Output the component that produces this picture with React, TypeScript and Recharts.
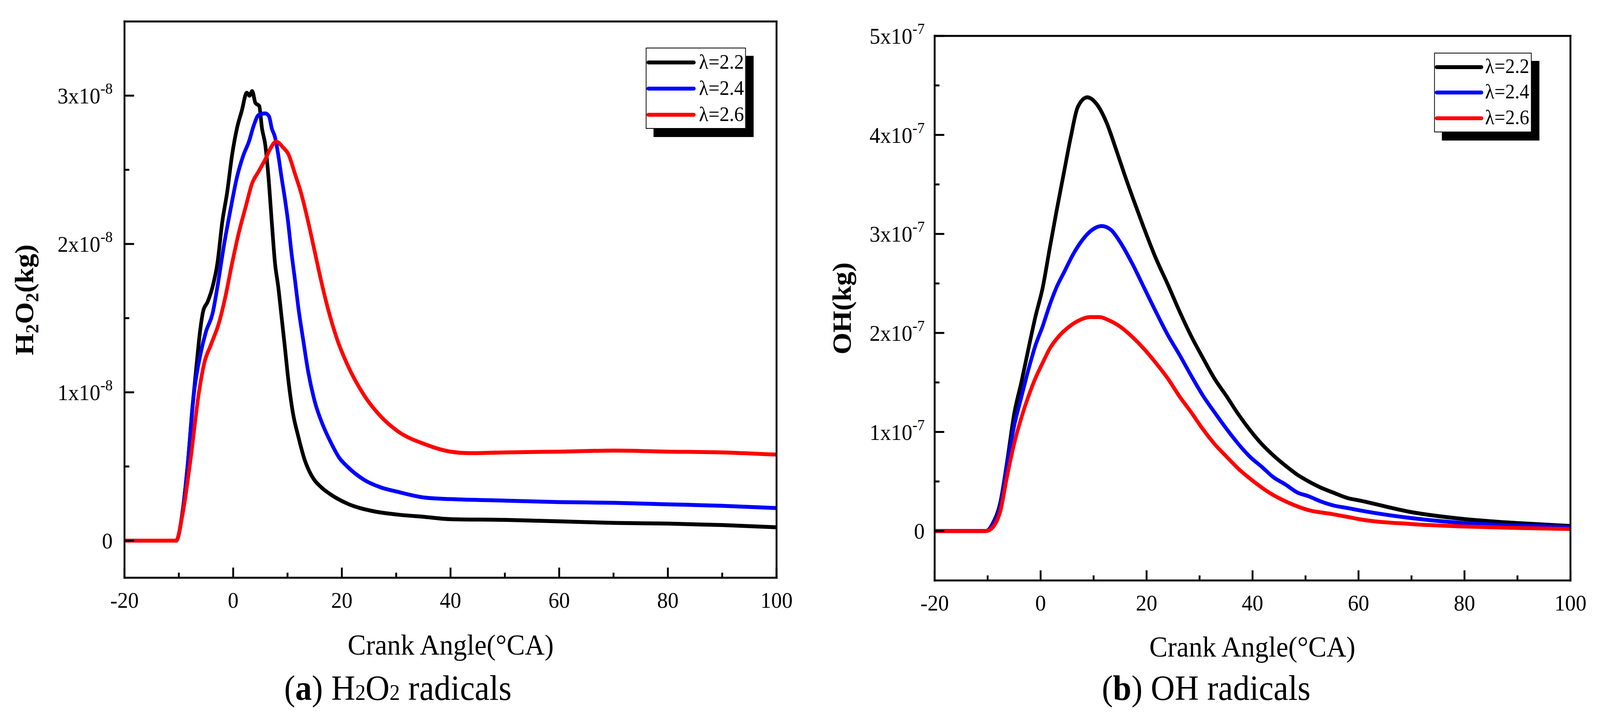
import React from "react";
import { LineChart, Line, XAxis, YAxis, Legend } from "recharts";

const FONT = '"Liberation Serif", "Times New Roman", serif';

// the browser viewport is capped at 4096px wide, so the 4331px-wide layout is squeezed horizontally to fit
const DESIGN_W = 4331;
const VIEW_W = 4096;

// crank angle ticks (°CA)
const xTicks = [-20, -10, 0, 10, 20, 30, 40, 50, 60, 70, 80, 90, 100];
const h2o2Ticks = [0, 0.5, 1, 1.5, 2, 2.5, 3];
const ohTicks = [0, 0.5, 1, 1.5, 2, 2.5, 3, 3.5, 4, 4.5, 5];

const seriesNames = ["λ=2.2", "λ=2.4", "λ=2.6"];
const seriesColors = ["#000000", "#0000ff", "#ff0000"];

// H2O2 mass, units of 1e-8 kg  [crank angle, value]
const h2o2Lambda22 = [
  [-20, 0], [-10.5, 0], [-9.3, 0.2], [-8.4, 0.5], [-7.5, 0.9], [-6.7, 1.2], [-6.1, 1.41], [-5.5, 1.55],
  [-4.7, 1.61], [-3.8, 1.71], [-2.9, 1.87], [-2.0, 2.15], [-1.1, 2.35], [-0.2, 2.6], [0.7, 2.78], [1.6, 2.9],
  [2.5, 3.02], [3.0, 3.0], [3.5, 3.03], [4.1, 2.95], [4.8, 2.93], [5.3, 2.78], [5.9, 2.67], [6.5, 2.45],
  [7.1, 2.15], [7.7, 1.87], [8.3, 1.71], [8.9, 1.51], [9.5, 1.31], [10.1, 1.1], [11.0, 0.86], [12.0, 0.7],
  [13.2, 0.54], [14.4, 0.44], [16.2, 0.36], [18.0, 0.31], [21.0, 0.25], [25.6, 0.2], [30.2, 0.176],
  [35.3, 0.16], [40, 0.145], [50, 0.14], [60, 0.13], [70, 0.12], [80, 0.115], [90, 0.105], [100, 0.09],
];
const h2o2Lambda24 = [
  [-20, 0], [-10.5, 0], [-9.3, 0.2], [-8.4, 0.5], [-7.2, 1.0], [-6.0, 1.26], [-5.0, 1.41], [-3.8, 1.53],
  [-2.9, 1.71], [-1.7, 1.99], [-0.5, 2.23], [0.7, 2.45], [1.9, 2.6], [2.9, 2.69], [3.8, 2.8], [4.7, 2.87],
  [5.9, 2.88], [6.6, 2.86], [7.1, 2.78], [7.7, 2.72], [8.3, 2.6], [8.9, 2.45], [9.5, 2.31], [10.1, 2.15],
  [10.7, 1.95], [11.4, 1.75], [12.0, 1.57], [12.9, 1.35], [13.8, 1.14], [15.0, 0.94], [16.5, 0.78],
  [18.0, 0.66], [19.5, 0.56], [21.0, 0.5], [24.1, 0.41], [27.1, 0.36], [30.2, 0.33], [35.3, 0.29],
  [40, 0.28], [50, 0.27], [60, 0.26], [70, 0.255], [80, 0.245], [90, 0.235], [100, 0.22],
];
const h2o2Lambda26 = [
  [-20, 0], [-10.5, 0], [-9.3, 0.18], [-7.8, 0.56], [-6.3, 1.0], [-5.3, 1.2], [-4.1, 1.32], [-2.6, 1.47],
  [-1.4, 1.65], [-0.2, 1.87], [1.0, 2.07], [2.3, 2.25], [3.5, 2.41], [4.7, 2.49], [5.9, 2.57], [6.8, 2.64],
  [7.9, 2.69], [9.2, 2.65], [10.1, 2.61], [11.4, 2.47], [12.6, 2.33], [13.8, 2.15], [15.0, 1.95],
  [16.2, 1.75], [17.4, 1.57], [19.2, 1.35], [21.1, 1.18], [24.1, 0.98], [27.1, 0.84], [30.2, 0.74],
  [35.3, 0.65], [40, 0.6], [43.5, 0.59], [50, 0.595], [60, 0.6], [70, 0.607], [80, 0.6], [90, 0.595], [100, 0.58],
];

// OH mass, units of 1e-7 kg
const ohLambda22 = [
  [-20, 0], [-10.3, 0], [-9.0, 0.08], [-7.6, 0.29], [-6.3, 0.71], [-5.0, 1.18], [-3.6, 1.51], [-2.3, 1.84],
  [-1.0, 2.16], [0.4, 2.46], [1.7, 2.85], [3.0, 3.23], [4.4, 3.62], [5.7, 3.98], [7.0, 4.28], [8.8, 4.38],
  [10.6, 4.31], [12.4, 4.13], [14.2, 3.86], [15.9, 3.59], [17.7, 3.32], [19.5, 3.06], [21.7, 2.76],
  [24.0, 2.49], [26.2, 2.22], [28.4, 1.97], [30.6, 1.75], [32.8, 1.54], [35.1, 1.36], [37.3, 1.18],
  [39.5, 1.02], [41.7, 0.88], [44.0, 0.76], [46.2, 0.66], [48.4, 0.57], [50.6, 0.5], [52.8, 0.44],
  [55.1, 0.39], [58.1, 0.33], [60, 0.31], [70, 0.19], [80, 0.12], [90, 0.08], [100, 0.05],
];
const ohLambda24 = [
  [-20, 0], [-10.3, 0], [-9.0, 0.07], [-7.6, 0.26], [-6.3, 0.68], [-5.0, 1.06], [-3.6, 1.36], [-2.3, 1.63],
  [-1.0, 1.87], [0.4, 2.07], [1.7, 2.28], [3.0, 2.46], [4.4, 2.61], [6.2, 2.8], [7.9, 2.94], [9.7, 3.04],
  [11.5, 3.08], [13.3, 3.04], [15.1, 2.91], [17.3, 2.7], [19.5, 2.46], [21.7, 2.22], [24.0, 1.98],
  [26.2, 1.78], [28.4, 1.57], [30.6, 1.37], [32.8, 1.2], [35.1, 1.03], [37.3, 0.88], [39.5, 0.75],
  [41.7, 0.65], [44.0, 0.54], [46.2, 0.47], [48.4, 0.39], [50.6, 0.35], [52.8, 0.3], [55.1, 0.26],
  [58.1, 0.23], [60, 0.21], [70, 0.13], [80, 0.08], [90, 0.055], [100, 0.04],
];
const ohLambda26 = [
  [-20, 0], [-10.3, 0], [-9.0, 0.04], [-7.6, 0.2], [-6.3, 0.56], [-5.0, 0.88], [-3.6, 1.15], [-2.3, 1.36],
  [-1.0, 1.54], [0.4, 1.7], [1.7, 1.84], [3.5, 1.97], [5.3, 2.06], [7.0, 2.12], [9.3, 2.16], [11.1, 2.16],
  [12.8, 2.13], [15.1, 2.06], [17.3, 1.96], [19.5, 1.84], [21.7, 1.7], [24.0, 1.54], [26.2, 1.36],
  [28.4, 1.2], [30.6, 1.03], [32.8, 0.88], [35.1, 0.75], [37.3, 0.63], [39.5, 0.53], [41.7, 0.44],
  [44.0, 0.36], [46.2, 0.3], [50.6, 0.21], [55.1, 0.17], [58.1, 0.14], [60, 0.12], [70, 0.07],
  [80, 0.045], [90, 0.03], [100, 0.02],
];

const toRows = (pts: number[][]) => pts.map(([x, y]) => ({ x, y }));

const axisStyle = { stroke: "#000", strokeWidth: 5, strokeLinecap: "square" as const };

function XTick({ x, y, payload }: any) {
  const v = payload.value;
  const major = v % 20 === 0;
  return (
    <g>
      <line x1={x} y1={y} x2={x} y2={y - (major ? 26 : 13)} stroke="#000" strokeWidth={5} />
      {major && (
        <text x={x} y={y + 77} textAnchor="middle" fontFamily={FONT} fontSize={58} fill="#000">
          {v}
        </text>
      )}
    </g>
  );
}

const makeYTick = (exp: string, gap: number) =>
  function YTick({ x, y, payload }: any) {
    const v = payload.value;
    const major = Number.isInteger(v);
    return (
      <g>
        <line x1={x} y1={y} x2={x + (major ? 26 : 13)} y2={y} stroke="#000" strokeWidth={5} />
        {major && (
          <text x={x - gap} y={y + 20} textAnchor="end" fontFamily={FONT} fontSize={58} fill="#000">
            {v === 0 ? "0" : `${v}x10`}
            {v !== 0 && (
              <tspan fontSize={40} dy={-25}>
                {exp}
              </tspan>
            )}
          </text>
        )}
      </g>
    );
  };

function LegendBox({ width, height, rows, lineLen, textLeft, fontSize }: any) {
  return (
    <div
      style={{
        position: "relative",
        width,
        height,
        boxSizing: "border-box",
        border: "2px solid #000",
        background: "#fff",
        boxShadow: "21px 21px 0 0 #000",
        fontFamily: FONT,
      }}
    >
      {seriesNames.map((n, i) => (
        <div key={n}>
          <div
            style={{
              position: "absolute",
              left: 0,
              top: rows[i] - 2 - 5,
              width: lineLen,
              height: 10,
              borderRadius: 5,
              background: seriesColors[i],
            }}
          />
          <div
            style={{
              position: "absolute",
              left: textLeft,
              top: rows[i] - 2 - fontSize / 2 - 2,
              fontSize,
              lineHeight: `${fontSize}px`,
              color: "#000",
              whiteSpace: "nowrap",
            }}
          >
            {n}
          </div>
        </div>
      ))}
    </div>
  );
}

function Panel({ left, width, margin, series, yDomain, yTicks, exp, gap, legend }: any) {
  const YTick = makeYTick(exp, gap);
  return (
    <div style={{ position: "absolute", left, top: 0 }}>
      <LineChart width={width} height={1847} margin={margin}>
        <XAxis
          dataKey="x"
          type="number"
          domain={[-20, 100]}
          ticks={xTicks}
          allowDataOverflow
          height={1}
          tickSize={0}
          tickMargin={0}
          tickLine={false}
          axisLine={axisStyle}
          tick={<XTick />}
          interval={0}
        />
        <XAxis xAxisId="top" orientation="top" type="number" domain={[-20, 100]} height={1} tick={false} tickLine={false} axisLine={axisStyle} />
        <YAxis
          type="number"
          domain={yDomain}
          ticks={yTicks}
          allowDataOverflow
          width={1}
          tickSize={0}
          tickMargin={0}
          tickLine={false}
          axisLine={axisStyle}
          tick={<YTick />}
          interval={0}
        />
        <YAxis yAxisId="right" orientation="right" type="number" domain={[0, 1]} width={1} tick={false} tickLine={false} axisLine={axisStyle} />
        {series.map((pts: number[][], i: number) => (
          <Line
            key={seriesNames[i]}
            name={seriesNames[i]}
            data={toRows(pts)}
            dataKey="y"
            type="monotone"
            stroke={seriesColors[i]}
            strokeWidth={10}
            strokeLinejoin="round"
            strokeLinecap="round"
            dot={false}
            activeDot={false}
            isAnimationActive={false}
          />
        ))}
        <Legend
          layout="horizontal"
          align="center"
          verticalAlign="middle"
          wrapperStyle={{ left: legend.left, top: legend.top, width: legend.width, height: legend.height }}
          content={() => <LegendBox {...legend} />}
        />
      </LineChart>
    </div>
  );
}

export default function App() {
  return (
    <div
      style={{
        position: "absolute",
        left: 0,
        top: 0,
        width: DESIGN_W,
        height: 1847,
        background: "#fff",
        overflow: "hidden",
        transform: `scaleX(${VIEW_W / DESIGN_W})`,
        transformOrigin: "0 0",
      }}
    >
      <svg width={DESIGN_W} height={1847} style={{ position: "absolute", left: 0, top: 0 }} fontFamily={FONT} fill="#000">
        <text transform="translate(90 768) rotate(-90)" textAnchor="middle" fontSize={72} fontWeight="bold">
          H<tspan fontSize={48} dy={14}>2</tspan>
          <tspan dy={-14}>O</tspan>
          <tspan fontSize={48} dy={14}>2</tspan>
          <tspan dy={-14}>(kg)</tspan>
        </text>
        <text x={1220} y={1677} textAnchor="middle" fontSize={74}>Crank Angle(°CA)</text>
        <text x={1077} y={1793} textAnchor="middle" fontSize={90}>
          (<tspan fontWeight="bold">a</tspan>) H<tspan fontSize={56}>2</tspan>O<tspan fontSize={56}>2</tspan> radicals
        </text>

        <text transform="translate(2303 790) rotate(-90)" textAnchor="middle" fontSize={72} fontWeight="bold">
          OH(kg)
        </text>
        <text x={3390} y={1682} textAnchor="middle" fontSize={74}>Crank Angle(°CA)</text>
        <text x={3265} y={1793} textAnchor="middle" fontSize={90}>
          (<tspan fontWeight="bold">b</tspan>) OH radicals
        </text>
      </svg>

      <Panel
        left={0}
        width={2165}
        margin={{ top: 54, right: 62, bottom: 366, left: 336 }}
        series={[h2o2Lambda22, h2o2Lambda24, h2o2Lambda26]}
        yDomain={[-0.25, 3.5]}
        yTicks={h2o2Ticks}
        exp="-8"
        gap={32}
        legend={{ left: 1748, top: 122, width: 271, height: 208, rows: [38, 105, 172], lineLen: 133, textLeft: 142, fontSize: 53 }}
      />
      <Panel
        left={2165}
        width={2166}
        margin={{ top: 91, right: 79, bottom: 359, left: 364 }}
        series={[ohLambda22, ohLambda24, ohLambda26]}
        yDomain={[-0.5, 5]}
        yTicks={ohTicks}
        exp="-7"
        gap={27}
        legend={{ left: 1717, top: 135, width: 264, height: 204, rows: [37, 102, 168], lineLen: 131, textLeft: 136, fontSize: 52 }}
      />
    </div>
  );
}
